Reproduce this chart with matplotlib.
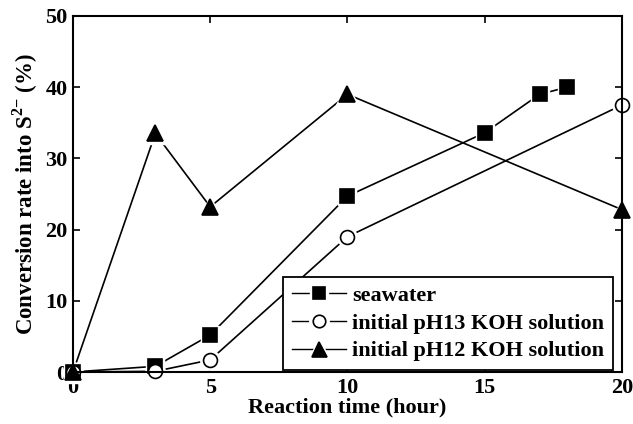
import matplotlib

matplotlib.use("Agg")
import matplotlib.pyplot as plt
from matplotlib.lines import Line2D

# --- datos ---
sea_x = [0, 3, 5, 10, 15, 17, 18]
sea_y = [0, 0.8, 5.2, 24.7, 33.6, 39.0, 40.0]
ph13_x = [0, 3, 5, 10, 20]
ph13_y = [0, 0.1, 1.7, 19.0, 37.5]
ph12_x = [0, 3, 5, 10, 20]
ph12_y = [0, 33.5, 23.2, 39.0, 22.8]
labels = ["seawater", "initial pH13 KOH solution", "initial pH12 KOH solution"]

plt.rcParams["font.family"] = ["Liberation Serif", "DejaVu Serif"]
plt.rcParams["font.weight"] = "bold"
plt.rcParams["mathtext.fontset"] = "custom"
plt.rcParams["mathtext.rm"] = "Liberation Serif:bold"

fig = plt.figure(figsize=(6.33, 4.24), dpi=100)
ax = fig.add_axes([0.1153, 0.1226, 0.8673, 0.8397])

series = [
    (sea_x, sea_y, "s", "black", 9.5),
    (ph13_x, ph13_y, "o", "white", 10),
    (ph12_x, ph12_y, "^", "black", 12),
]
handles = []
for (xs, ys, mk, fc, ms), lab in zip(series, labels):
    ax.plot(xs, ys, color="black", lw=1.2, zorder=1, clip_on=False)
    # halo blanco para el hueco entre línea y marcador
    ax.plot(xs, ys, ls="none", marker=mk, ms=ms + 4, mfc="white", mec="white",
            zorder=2.1, clip_on=False)
    ax.plot(xs, ys, ls="none", marker=mk, ms=ms, mfc=fc, mec="black", mew=1.2,
            zorder=2.2, clip_on=False)
    hl = Line2D([], [], color="black", lw=1.0)
    hh = Line2D([], [], ls="none", marker=mk, ms=ms * 0.9 + 5, mfc="white", mec="white")
    hm = Line2D([], [], ls="none", marker=mk, ms=ms * 0.9, mfc=fc, mec="black", mew=1.2)
    handles.append((hl, hh, hm))

ax.set_xlim(0, 20)
ax.set_ylim(0, 50)
ax.set_xticks([0, 5, 10, 15, 20])
ax.set_yticks([0, 10, 20, 30, 40, 50])
ax.tick_params(direction="in", length=5, width=1.2, top=True, right=True,
               labelsize=16, pad=4)
for s in ax.spines.values():
    s.set_linewidth(1.5)

ax.set_xlabel("Reaction time (hour)", fontsize=16, fontweight="bold", labelpad=0)
ax.set_ylabel(r"Conversion rate into S$^{2\mathrm{-}}$ (%)", fontsize=16.5,
              fontweight="bold", labelpad=4)

leg = ax.legend(handles=handles, labels=labels, loc="lower right",
                bbox_to_anchor=(0.984, 0.005), fontsize=16, frameon=True,
                fancybox=False, edgecolor="black", handlelength=2.4,
                handletextpad=0.3, borderpad=0.4, labelspacing=0.32,
                borderaxespad=0)
leg.get_frame().set_linewidth(1.3)
leg.get_frame().set_alpha(1)
leg.set_zorder(5)

fig.savefig("out.png", dpi=100)
